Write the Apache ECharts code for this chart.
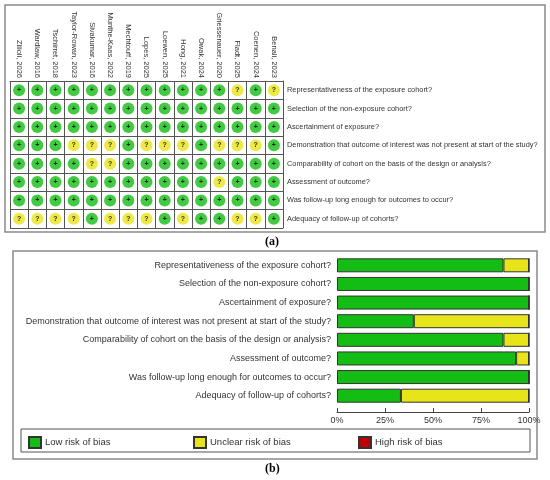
<!DOCTYPE html>
<html>
<head>
<meta charset="utf-8">
<script src="https://cdn.jsdelivr.net/npm/echarts@6/dist/echarts.min.js"></script>
<style>
  html, body { margin: 0; padding: 0; background: #fff; }
  #chart { width: 550px; height: 480px; }
</style>
</head>
<body>
<div id="chart"></div>
<script>
const studies = [
  'Zilioli, 2026', 'Wardlaw, 2016', 'Tschirret, 2018', 'Taylor-Rowan, 2023',
  'Sivakumar, 2016', 'Munthe-Kaas, 2022', 'Mechtouff, 2019', 'Lopes, 2025',
  'Loewen, 2025', 'Hong, 2021', 'Owak, 2024', 'Griessenauer, 2020',
  'Fladt, 2025', 'Coenen, 2024', 'Benali, 2023'
];

const domains = [
  'Representativeness of the exposure cohort?',
  'Selection of the non-exposure cohort?',
  'Ascertainment of exposure?',
  'Demonstration that outcome of interest was not present at start of the study?',
  'Comparability of cohort on the basis of the design or analysis?',
  'Assessment of outcome?',
  'Was follow-up long enough for outcomes to occur?',
  'Adequacy of follow-up of cohorts?'
];

// one string per domain, one letter per study: L = low, U = unclear
const judgements = [
  'LLLLLLLLLLLLULU',
  'LLLLLLLLLLLLLLL',
  'LLLLLLLLLLLLLLL',
  'LLLUUULUUULUUUL',
  'LLLLUULLLLLLLLL',
  'LLLLLLLLLLLULLL',
  'LLLLLLLLLLLLLLL',
  'UUUULUUULULLUUL'
];

// summary bars, percent of studies
const lowRisk = [86.7, 100, 100, 40, 86.7, 93.3, 100, 33.3];
const unclearRisk = [13.3, 0, 0, 60, 13.3, 6.7, 0, 66.7];
const highRisk = [0, 0, 0, 0, 0, 0, 0, 0];

const pctTicks = ['0%', '25%', '50%', '75%', '100%'];

const GREEN = '#14bd14';
const YELLOW = '#e8e41a';
const RED = '#c00000';
const FONT = '"Liberation Sans", Arial, sans-serif';

const cells = [];
judgements.forEach((row, r) => {
  row.split('').forEach((j, c) => {
    cells.push({
      value: [c, r],
      symbolSize: 12,
      itemStyle: { color: j === 'L' ? GREEN : YELLOW },
      label: { formatter: j === 'L' ? '+' : '?' }
    });
  });
});

const chart = echarts.init(document.getElementById('chart'), null, { renderer: 'canvas' });

chart.setOption({
  backgroundColor: '#fff',
  animation: false,
  textStyle: { fontFamily: FONT },
  graphic: [
    { type: 'rect', shape: { x: 5, y: 5, width: 540, height: 227 },
      style: { fill: 'none', stroke: '#8a8a8a', lineWidth: 1.5 }, silent: true },
    { type: 'rect', shape: { x: 13, y: 251, width: 524, height: 208 },
      style: { fill: 'none', stroke: '#8a8a8a', lineWidth: 1.5 }, silent: true },
    { type: 'rect', shape: { x: 21, y: 429, width: 509, height: 23 },
      style: { fill: 'none', stroke: '#555', lineWidth: 1 }, silent: true },
    { type: 'text', left: 265, top: 236,
      style: { text: '(a)', font: 'bold 12px "Liberation Serif", serif', fill: '#000' } },
    { type: 'text', left: 265, top: 463,
      style: { text: '(b)', font: 'bold 12px "Liberation Serif", serif', fill: '#000' } }
  ],
  grid: [
    { left: 10, top: 81, width: 273, height: 147 },
    { left: 337, top: 256, width: 192, height: 149 }
  ],
  legend: [
    { data: ['Low risk of bias'], left: 28, top: 436 },
    { data: ['Unclear risk of bias'], left: 193, top: 436 },
    { data: ['High risk of bias'], left: 358, top: 436 }
  ].map(l => Object.assign(l, {
    icon: 'rect', itemWidth: 12, itemHeight: 11, padding: 0, selectedMode: false,
    textStyle: { fontSize: 9.5, color: '#333', fontFamily: FONT, padding: [0, 0, 0, -1] }
  })),
  xAxis: [
    {
      gridIndex: 0, type: 'category', data: studies, position: 'top',
      axisLine: { show: true, lineStyle: { color: '#555' } },
      axisTick: { show: false },
      splitLine: { show: true, lineStyle: { color: '#555', width: 1 } },
      axisLabel: { interval: 0, rotate: 90, fontSize: 7.5, margin: 3, color: '#333' }
    },
    {
      gridIndex: 1, type: 'value', min: 0, max: 100, interval: 25, offset: 7,
      axisLine: { show: true, lineStyle: { color: '#444' } },
      axisTick: { show: true, inside: true, length: 4, lineStyle: { color: '#444' } },
      splitLine: { show: false },
      axisLabel: { fontSize: 9, margin: 4, color: '#333',
        formatter: v => pctTicks[v / 25] }
    }
  ],
  yAxis: [
    {
      gridIndex: 0, type: 'category', data: domains, position: 'right', inverse: true,
      axisLine: { show: true, lineStyle: { color: '#555' } },
      axisTick: { show: false },
      splitLine: { show: true, lineStyle: { color: '#555', width: 1 } },
      axisLabel: { interval: 0, fontSize: 7.4, margin: 4, color: '#333' }
    },
    {
      gridIndex: 1, type: 'category', data: domains, inverse: true,
      axisLine: { show: false },
      axisTick: { show: false },
      axisLabel: { interval: 0, fontSize: 9, margin: 6, color: '#333' }
    }
  ],
  series: [
    {
      type: 'scatter', xAxisIndex: 0, yAxisIndex: 0, symbol: 'circle',
      data: cells,
      label: { show: true, position: 'inside', fontSize: 7, fontWeight: 'bold',
        color: '#000', textBorderWidth: 0 }
    },
    {
      name: 'Low risk of bias', type: 'bar', stack: 'rob', xAxisIndex: 1, yAxisIndex: 1,
      barWidth: 14, data: lowRisk,
      itemStyle: { color: GREEN, borderColor: '#333', borderWidth: 1 }
    },
    {
      name: 'Unclear risk of bias', type: 'bar', stack: 'rob', xAxisIndex: 1, yAxisIndex: 1,
      barWidth: 14, data: unclearRisk,
      itemStyle: { color: YELLOW, borderColor: '#333', borderWidth: 1 }
    },
    {
      name: 'High risk of bias', type: 'bar', stack: 'rob', xAxisIndex: 1, yAxisIndex: 1,
      barWidth: 14, data: highRisk,
      itemStyle: { color: RED, borderColor: '#333', borderWidth: 1 }
    }
  ]
});
</script>
</body>
</html>
